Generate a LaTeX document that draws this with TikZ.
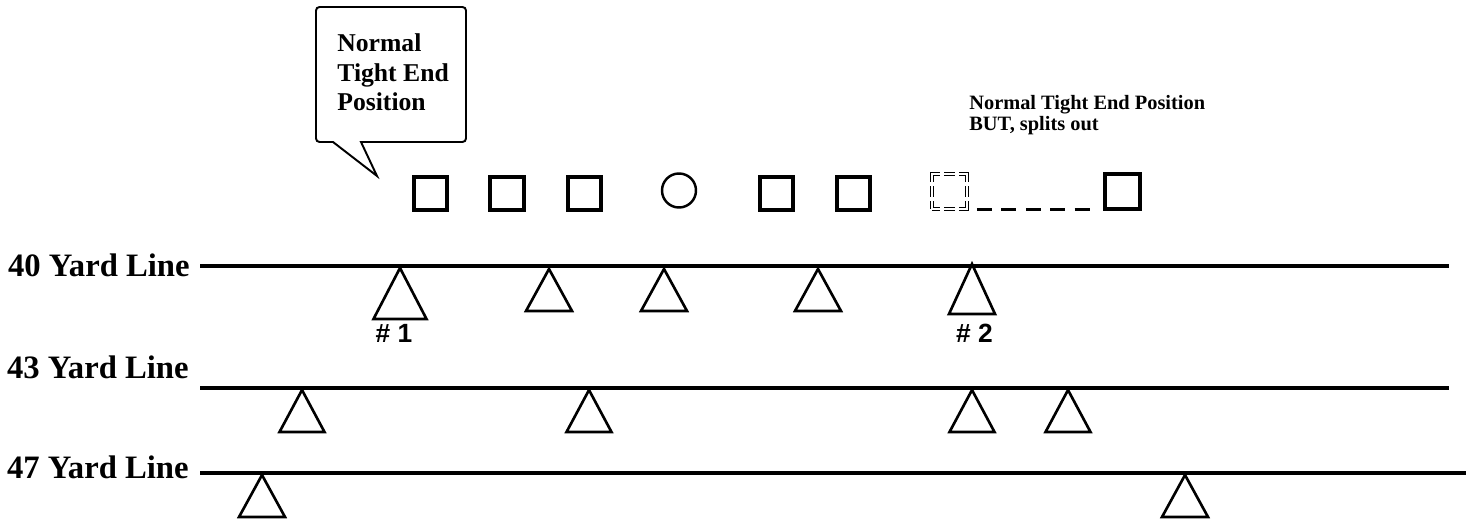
\documentclass[tikz,border=0pt]{standalone}
\usepackage{fontspec}
\setmainfont{Liberation Serif}
\newfontfamily\numfont{Liberation Sans}
\usetikzlibrary{positioning}
\tikzset{
    field/.style={x=0.02cm, y=-0.02cm},
    yardline/.style={line width=2pt},
    goalline/.style={line width=2.8pt},
    yardlabel/.style={anchor=base east, inner sep=0pt, font=\fontsize{18.6}{20}\bfseries},
    lineman/.style={draw, line width=2.1pt, minimum size=0.67cm, inner sep=0pt},
    snapper/.style={draw, circle, line width=1.4pt, minimum size=0.68cm, inner sep=0pt},
    % tight end's old spot: a hollow, broken outline
    ghost/.style={draw, minimum size=0.7cm, inner sep=0pt, line width=0.55pt, double, double distance=1.1pt,
        dash pattern=on 0.31cm off 0.09cm on 0.21cm off 0.09cm, dash phase=0.155cm},
    splitdash/.style={line width=1.3pt, dash pattern=on 8.5pt off 5.4pt, shorten <=5.4pt, shorten >=7.4pt},
    defender/.style={line width=1.5pt},
    callout/.style={draw, line width=1.1pt, fill=white},
    note/.style={align=left, anchor=north west, inner sep=0pt},
    numlabel/.style={anchor=base, inner sep=0pt, font=\numfont\fontsize{15}{16}\bfseries},
}

\begin{document}
\begin{tikzpicture}[field]
    \useasboundingbox (0,0) rectangle (1470,523);

    % callout bubble
    \draw[callout] (361,142) [rounded corners=2pt] -- (466,142) -- (466,7) -- (316,7) -- (316,142)
        [sharp corners] -- (333,142) -- (377,176) -- cycle;
    \node[note, font=\fontsize{14.6}{17}\bfseries] (tenote) at (337,33) {Normal\\Tight End\\Position};
    \node[note, font=\fontsize{11.6}{12}\bfseries] (splitnote) at (969,95) {Normal Tight End Position\\BUT, splits out};

    % offense
    \node[lineman] (le) at (430.5,193.5) {};
    \node[lineman] (lt) at (507,193.5) {};
    \node[lineman] (lg) at (584.5,193.5) {};
    \node[snapper] (c) at (679,190.5) {};
    \node[lineman] (rg) at (776.5,193.5) {};
    \node[lineman] (rt) at (853.5,193.5) {};
    \node[ghost] (te) at (949.5,191.5) {};
    \node[lineman, minimum size=0.7cm, line width=2.3pt] (split) at (1122.5,191.5) {};
    \draw[splitdash] (te.south east) -- (te.south east -| split.west);

    % yard lines
    \node[yardlabel] (y40) at (190,277) {40 Yard Line};
    \node[yardlabel] (y43) at (189,378) {43 Yard Line};
    \node[yardlabel] (y47) at (189,478) {47 Yard Line};
    \draw[yardline] (200,266) -- (1449,266);
    \draw[yardline] (200,388) -- (1449,388);
    \draw[goalline] (200,473) -- (1466,473);

    % defense
    \draw[defender] (400,268) -- ++(-26.5,51) -- ++(53,0) -- cycle;
    \draw[defender] (972,264) -- ++(-23,50) -- ++(46,0) -- cycle;
    \foreach \x in {549,664,818}
        \draw[defender] (\x,269) -- ++(-23,42) -- ++(46,0) -- cycle;
    \foreach \x in {302,589,972,1068}
        \draw[defender] (\x,390) -- ++(-22.5,42) -- ++(45,0) -- cycle;
    \foreach \x in {262,1185}
        \draw[defender] (\x,475) -- ++(-23,42) -- ++(46,0) -- cycle;

    \node[numlabel] (d1) at (394,342) {\# 1};
    \node[numlabel] (d2) at (974.5,342) {\# 2};
\end{tikzpicture}
\end{document}
